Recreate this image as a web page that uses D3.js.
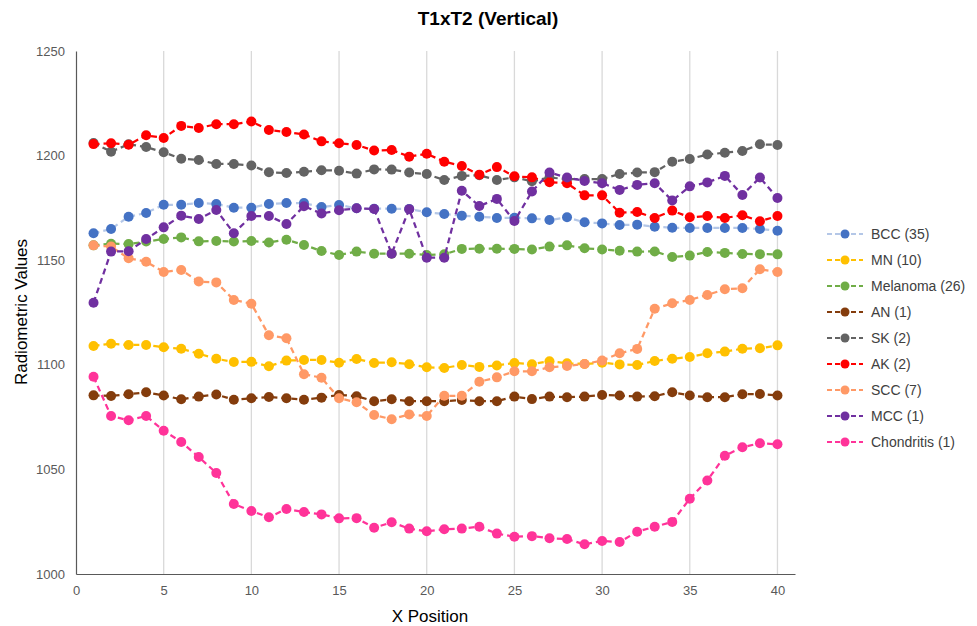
<!DOCTYPE html>
<html>
<head>
<meta charset="utf-8">
<script src="https://cdn.jsdelivr.net/npm/d3@7"></script>
<style>
  body { margin: 0; background: #fff; }
  text { font-family: "Liberation Sans", Arial, sans-serif; }
</style>
</head>
<body>
<script>
// x positions 1..40
var positions = d3.range(1, 41);

var seriesNames = ["BCC (35)", "MN (10)", "Melanoma (26)", "AN (1)", "SK (2)", "AK (2)", "SCC (7)", "MCC (1)", "Chondritis (1)"];
var seriesColors = ["#4472C4", "#FFC000", "#70AD47", "#843C0C", "#636363", "#FF0000", "#FF9966", "#7030A0", "#FF3399"];
var lineColors = ["#B4C7E7", "#FFC000", "#70AD47", "#843C0C", "#636363", "#FF0000", "#FF9966", "#7030A0", "#FF3399"];

var bcc = [1162.9, 1164.9, 1170.8, 1172.6, 1176.5, 1176.5, 1177.3, 1176.9, 1175.1, 1175.1,
           1176.9, 1177.3, 1177.3, 1175.4, 1176.4, 1174.8, 1174.6, 1174.6, 1174.5, 1172.9,
           1172.1, 1171.3, 1170.8, 1170.2, 1170.3, 1170.0, 1169.2, 1170.5, 1168.1, 1167.6,
           1166.8, 1167.0, 1166.0, 1165.5, 1165.4, 1165.4, 1165.4, 1165.4, 1164.9, 1164.1];
var mn = [1109.0, 1110.1, 1109.5, 1109.5, 1108.4, 1107.7, 1105.3, 1102.9, 1101.3, 1101.4,
          1099.3, 1102.0, 1102.3, 1102.3, 1101.0, 1102.8, 1100.9, 1101.2, 1100.3, 1098.8,
          1098.5, 1099.9, 1099.0, 1099.7, 1100.9, 1100.3, 1101.7, 1100.7, 1100.4, 1101.0,
          1100.2, 1099.9, 1101.8, 1102.9, 1103.7, 1105.5, 1106.3, 1107.7, 1107.9, 1109.3];
var melanoma = [1157.1, 1157.9, 1157.7, 1158.9, 1160.1, 1160.9, 1159.0, 1159.2, 1158.9, 1159.2,
                1158.5, 1159.8, 1157.3, 1154.4, 1152.5, 1154.1, 1153.1, 1153.1, 1153.1, 1152.5,
                1152.8, 1155.4, 1155.5, 1155.5, 1155.4, 1155.1, 1156.5, 1157.1, 1155.7, 1155.1,
                1154.5, 1154.1, 1154.2, 1151.5, 1152.2, 1153.9, 1153.5, 1153.0, 1152.9, 1152.8];
var an = [1085.4, 1085.1, 1085.9, 1086.9, 1085.3, 1083.5, 1084.8, 1085.8, 1083.3, 1084.0,
          1084.6, 1084.0, 1083.3, 1084.3, 1085.6, 1085.0, 1082.6, 1083.5, 1082.6, 1082.6,
          1082.6, 1083.2, 1082.6, 1082.6, 1084.8, 1083.6, 1084.8, 1084.5, 1084.8, 1085.6,
          1085.3, 1084.8, 1085.0, 1086.9, 1085.3, 1084.5, 1084.5, 1085.9, 1086.0, 1085.3];
var sk = [1206.0, 1201.9, 1205.4, 1204.1, 1201.6, 1198.5, 1197.9, 1196.0, 1196.0, 1195.3,
          1192.0, 1191.7, 1192.3, 1193.0, 1192.8, 1191.4, 1193.4, 1193.3, 1191.9, 1191.2,
          1188.3, 1190.3, 1190.6, 1188.3, 1189.6, 1187.7, 1189.5, 1188.8, 1188.8, 1188.8,
          1191.2, 1191.9, 1192.1, 1197.1, 1198.4, 1200.5, 1201.4, 1202.2, 1205.4, 1205.1];
var ak = [1205.5, 1205.9, 1205.2, 1209.7, 1208.4, 1214.2, 1213.2, 1215.0, 1215.0, 1216.3,
          1212.2, 1211.3, 1210.1, 1206.8, 1205.9, 1205.1, 1202.4, 1202.7, 1199.5, 1200.9,
          1197.1, 1195.0, 1190.9, 1194.5, 1190.1, 1189.6, 1187.3, 1186.8, 1181.0, 1181.0,
          1172.7, 1173.0, 1170.2, 1173.7, 1170.5, 1171.1, 1170.2, 1171.5, 1168.6, 1171.1];
var scc = [1157.1, 1156.5, 1150.9, 1149.3, 1144.4, 1145.3, 1139.8, 1139.4, 1131.0, 1129.2,
           1114.1, 1112.7, 1095.5, 1093.8, 1084.0, 1082.1, 1076.0, 1074.0, 1076.3, 1075.5,
           1085.2, 1085.2, 1091.9, 1094.0, 1096.9, 1096.9, 1098.8, 1099.4, 1100.4, 1102.0,
           1105.5, 1107.6, 1126.8, 1129.4, 1131.0, 1133.4, 1136.1, 1136.6, 1145.7, 1144.4];
var mcc = [1129.7, 1154.1, 1154.3, 1160.1, 1165.7, 1171.3, 1169.7, 1174.0, 1162.9, 1171.1,
           1171.1, 1167.3, 1175.8, 1172.3, 1173.9, 1174.8, 1174.5, 1153.1, 1174.4, 1151.2,
           1151.2, 1183.2, 1175.9, 1179.3, 1168.7, 1182.8, 1191.9, 1189.5, 1187.9, 1186.8,
           1183.6, 1186.0, 1186.8, 1178.5, 1185.3, 1187.2, 1190.3, 1181.2, 1189.5, 1179.7];
var chondritis = [1094.3, 1075.5, 1073.5, 1075.5, 1068.5, 1063.1, 1055.9, 1048.3, 1033.5, 1030.1,
                  1027.1, 1031.1, 1029.6, 1028.5, 1026.6, 1026.7, 1022.1, 1024.7, 1021.7, 1020.4,
                  1021.4, 1021.7, 1022.6, 1019.3, 1017.8, 1018.1, 1017.1, 1016.7, 1014.2, 1015.8,
                  1015.3, 1020.2, 1022.6, 1024.9, 1036.0, 1044.7, 1056.5, 1060.6, 1062.5, 1062.0];

var xTicks = [0, 5, 10, 15, 20, 25, 30, 35, 40];
var yTicks = [1000, 1050, 1100, 1150, 1200, 1250];

var allValues = [bcc, mn, melanoma, an, sk, ak, scc, mcc, chondritis];
var series = seriesNames.map(function(name, i) {
    return {
        name: name,
        color: seriesColors[i],
        lineColor: lineColors[i],
        values: allValues[i].map(function(v, j) { return { x: positions[j], y: v }; })
    };
});

var w = 977;
var h = 626;
var margin = { left: 76, right: 182, top: 51, bottom: 52 };

var svg = d3.select("body").append("svg")
    .attr("width", w)
    .attr("height", h);

var x = d3.scaleLinear().domain([0, 41]).range([margin.left, w - margin.right]);
var y = d3.scaleLinear().domain([1000, 1250]).range([h - margin.bottom, margin.top]);

// vertical gridlines
svg.append("g")
    .selectAll("line")
    .data(xTicks.filter(function(d) { return d > 0; }))
    .enter()
    .append("line")
    .attr("x1", function(d) { return x(d); })
    .attr("x2", function(d) { return x(d); })
    .attr("y1", y(1250))
    .attr("y2", y(1000))
    .attr("stroke", "#D9D9D9")
    .attr("stroke-width", 1.3);

// axes
var xAxis = svg.append("g")
    .attr("transform", "translate(0," + y(1000) + ")")
    .call(d3.axisBottom(x).tickValues(xTicks).tickSize(0).tickPadding(12));
var yAxis = svg.append("g")
    .attr("transform", "translate(" + x(0) + ",0)")
    .call(d3.axisLeft(y).tickValues(yTicks).tickFormat(d3.format("d")).tickSize(0).tickPadding(11));

[xAxis, yAxis].forEach(function(ax) {
    ax.select(".domain").attr("stroke", "#595959").attr("stroke-width", 1.2);
    ax.selectAll("text")
        .attr("fill", "#595959")
        .style("font-size", "13px")
        .style("font-family", "'Liberation Sans', Arial, sans-serif");
});

// lines
var line = d3.line()
    .x(function(d) { return x(d.x); })
    .y(function(d) { return y(d.y); });

var groups = svg.append("g")
    .selectAll("g")
    .data(series)
    .enter()
    .append("g");

groups.append("path")
    .attr("d", function(d) { return line(d.values); })
    .attr("fill", "none")
    .attr("stroke", function(d) { return d.lineColor; })
    .attr("stroke-width", 2.25)
    .attr("stroke-dasharray", "6,4");

groups.selectAll("circle")
    .data(function(d) { return d.values.map(function(v) { return { x: v.x, y: v.y, color: d.color }; }); })
    .enter()
    .append("circle")
    .attr("cx", function(d) { return x(d.x); })
    .attr("cy", function(d) { return y(d.y); })
    .attr("r", 5)
    .attr("fill", function(d) { return d.color; });

// title
svg.append("text")
    .attr("x", 488)
    .attr("y", 25)
    .attr("text-anchor", "middle")
    .style("font-size", "19px")
    .style("font-weight", "bold")
    .attr("fill", "#000")
    .text("T1xT2 (Vertical)");

// axis titles
svg.append("text")
    .attr("x", 430)
    .attr("y", 622)
    .attr("text-anchor", "middle")
    .style("font-size", "17px")
    .attr("fill", "#000")
    .text("X Position");

svg.append("text")
    .attr("transform", "translate(27," + 312 + ") rotate(-90)")
    .attr("text-anchor", "middle")
    .style("font-size", "17px")
    .attr("fill", "#000")
    .text("Radiometric Values");

// legend
var legend = svg.append("g")
    .selectAll("g")
    .data(series)
    .enter()
    .append("g")
    .attr("transform", function(d, i) { return "translate(827," + (234 + i * 26) + ")"; });

legend.append("line")
    .attr("x1", 0).attr("x2", 36).attr("y1", 0).attr("y2", 0)
    .attr("stroke", function(d) { return d.lineColor; })
    .attr("stroke-width", 2)
    .attr("stroke-dasharray", "5,3");

legend.append("circle")
    .attr("cx", 18).attr("cy", 0).attr("r", 4.5)
    .attr("fill", function(d) { return d.color; });

legend.append("text")
    .attr("x", 44)
    .attr("y", 5)
    .style("font-size", "14px")
    .attr("fill", "#404040")
    .text(function(d) { return d.name; });
</script>
</body>
</html>
